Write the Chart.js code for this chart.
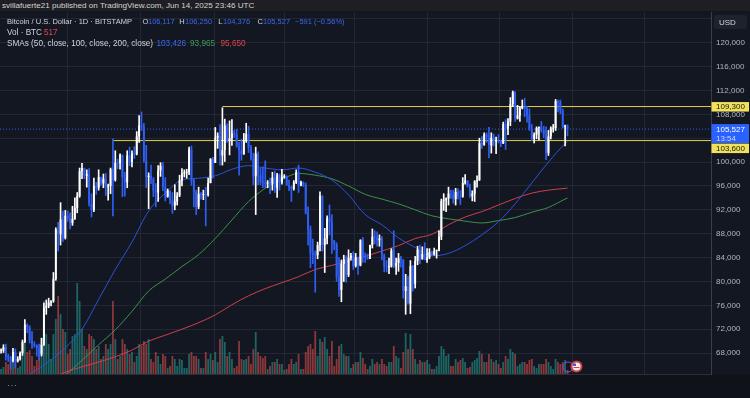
<!DOCTYPE html>
<html>
<head>
<meta charset="utf-8">
<title>BTCUSD 1D</title>
<script src="https://cdn.jsdelivr.net/npm/chart.js@4.4.1/dist/chart.umd.min.js"></script>
<style>
  body { margin:0; width:750px; height:398px; overflow:hidden; background:#131722; position:relative;
         font-family:"Liberation Sans", Arial, sans-serif; }
  #chart { position:absolute; left:0; top:0; }
  #pub { position:absolute; left:0; top:0; width:750px; height:11px; background:#1e1f23; color:#d4d4d4;
         font-size:8.1px; line-height:11px; padding-left:2px; box-sizing:border-box; white-space:nowrap; }
  .lg { position:absolute; font-size:8.2px; line-height:10px; color:#d1d4dc; white-space:nowrap; }
  .l1 { font-size:7.5px; top:17px; }
  .b { color:#3a68f0; } .g { color:#3d9a5a; } .r { color:#e5434b; }
  #dots { position:absolute; left:7px; top:380px; color:#8a8e99; font-size:9px; letter-spacing:0.5px; }
</style>
</head>
<body>
<canvas id="chart" width="750" height="398"></canvas>
<div id="pub">svillafuerte21 published on TradingView.com, Jun 14, 2025 23:46 UTC</div>

<div class="lg l1" style="left:7px">Bitcoin / U.S. Dollar · 1D · BITSTAMP</div>
<div class="lg l1" style="left:142.5px">O</div><div class="lg l1 b" style="left:148px">106,117</div>
<div class="lg l1" style="left:179.3px">H</div><div class="lg l1 b" style="left:185px">106,250</div>
<div class="lg l1" style="left:218.3px">L</div><div class="lg l1 b" style="left:223px">104,376</div>
<div class="lg l1" style="left:257.5px">C</div><div class="lg l1 b" style="left:263px">105,527</div>
<div class="lg l1 b" style="left:295px">−591 (−0.56%)</div>

<div class="lg" style="left:7px;top:28px">Vol · BTC</div>
<div class="lg r" style="left:44px;top:28px">517</div>

<div class="lg" style="left:7px;top:38.7px">SMAs (50, close, 100, close, 200, close)</div>
<div class="lg b" style="left:156.5px;top:38.7px">103,426</div>
<div class="lg g" style="left:190px;top:38.7px">93,965</div>
<div class="lg r" style="left:220.5px;top:38.7px">95,650</div>

<div id="dots">···</div>

<script>
// daily candles, Bitstamp BTC/USD, first bar = 2024-10-18 (x index 0), prices in thousands of USD
const firstDay = '2024-10-18';

const opens = [
  67.6,68.4,68.4,69.0,67.4,67.3,66.7,68.2,66.6,67.0,68.0,69.9,72.7,72.3,
  70.2,69.5,69.3,68.8,67.8,69.4,75.6,75.9,76.5,76.7,80.4,88.7,87.9,90.4,87.3,91.0,90.6,89.8,90.5,92.3,94.3,98.5,99.0,97.7,98.0,93.0,92.0,96.0,95.7,97.5,
  96.4,97.2,95.9,96.0,98.8,97.0,99.9,99.8,101.2,97.4,96.6,101.1,100.0,101.4,101.3,104.3,106.1,106.0,100.2,97.5,97.7,97.2,95.2,94.9,98.6,99.4,95.8,94.2,95.2,93.7,92.7,
  93.4,94.4,96.9,98.1,98.2,98.3,102.1,96.9,95.0,92.5,94.7,94.5,94.6,94.5,96.5,100.5,99.9,104.1,104.4,101.1,102.0,106.1,103.6,104.0,104.8,104.7,102.6,102.0,101.3,103.7,104.7,
  102.4,100.6,97.6,101.4,97.8,96.6,96.5,96.4,96.5,96.4,97.4,95.7,97.8,96.6,97.5,97.6,96.1,95.8,95.5,96.6,98.3,96.1,96.6,96.2,91.5,88.7,84.7,84.5,
  84.4,86.1,94.3,86.1,87.2,90.6,89.9,86.8,86.2,80.7,78.6,82.9,83.7,81.1,84.0,84.3,82.6,84.1,82.7,86.9,84.2,84.1,83.8,86.1,87.5,87.4,86.9,87.2,84.4,82.6,82.4,
  82.5,85.2,82.5,83.1,83.9,83.6,78.4,79.2,76.3,82.6,79.6,83.4,85.3,83.8,84.6,83.6,84.0,84.9,84.5,85.1,85.2,87.5,93.5,93.7,93.9,94.7,94.6,93.8,95.0,94.3,
  94.2,96.5,96.9,95.9,94.3,94.7,96.8,97.0,103.2,102.9,104.6,104.1,102.8,104.1,103.5,103.7,103.5,103.1,106.4,105.6,106.8,109.7,111.7,107.3,107.8,109.0,109.4,108.9,107.8,105.6,103.9,
  104.6,105.7,105.8,105.4,104.7,101.5,104.3,105.6,105.7,110.2,110.1,108.6,105.9,106.117
];
const highs = [
  68.9,68.7,69.4,69.5,67.8,67.5,68.8,68.7,67.4,68.2,70.2,73.6,72.9,72.6,
  71.6,69.9,69.4,69.5,70.5,76.4,76.9,77.2,76.8,81.5,89.0,89.9,93.2,91.8,91.9,91.8,91.5,92.6,94.0,94.9,99.0,99.8,99.0,98.7,98.9,94.7,97.3,96.6,98.7,97.5,
  98.0,98.1,96.3,99.0,103.9,101.9,100.5,101.4,101.2,98.3,101.9,102.5,101.9,102.6,105.1,107.8,108.4,106.5,102.8,98.2,99.5,97.4,96.4,99.4,99.9,99.9,97.4,95.5,95.2,94.9,96.2,
  94.9,97.8,98.9,98.7,98.8,102.5,102.7,97.2,95.3,95.8,94.9,95.3,95.8,97.3,100.6,100.8,105.8,104.9,106.3,109.1,107.2,106.4,106.9,107.1,105.3,105.5,103.3,103.8,104.8,106.5,106.0,
  102.8,101.5,102.5,101.7,99.0,99.2,100.2,96.9,97.3,98.3,98.5,98.1,98.0,98.8,97.9,97.7,97.0,96.0,96.9,98.7,99.5,96.8,96.7,96.5,92.5,89.3,87.1,85.1,
  86.6,95.0,94.4,88.9,91.0,92.8,91.2,86.9,86.5,84.0,83.6,84.4,84.3,85.3,84.7,85.0,84.7,84.1,87.0,87.4,84.8,84.6,86.1,88.8,88.5,88.3,87.8,87.5,84.6,83.5,83.9,
  85.5,88.5,83.9,84.7,84.2,83.7,81.2,80.9,83.5,82.7,84.2,85.9,86.1,85.8,86.5,85.5,85.5,85.1,85.6,85.3,88.5,93.8,94.7,94.0,95.8,95.3,95.3,95.6,95.5,95.2,
  97.4,97.9,96.9,96.3,95.2,96.9,97.7,104.0,104.3,104.9,104.9,105.8,104.9,104.7,104.2,104.6,103.7,106.7,107.1,107.3,110.8,111.9,111.8,109.5,109.3,110.4,110.7,109.3,108.9,106.3,104.9,
  105.9,105.9,106.8,106.0,105.9,105.3,105.9,106.3,110.5,110.4,110.4,108.9,106.2,106.25
];
const lows = [
  67.1,68.0,68.1,66.8,66.6,65.3,66.5,65.5,66.5,66.8,67.6,69.7,71.4,69.7,
  68.8,69.0,67.5,66.8,67.5,69.3,74.5,75.6,75.9,76.5,80.2,85.1,86.1,86.7,87.1,90.1,88.8,89.4,90.4,91.5,94.1,97.2,97.2,95.8,92.6,90.8,91.7,94.6,95.3,96.1,
  95.7,94.4,93.6,94.7,91.0,96.8,98.9,98.8,94.2,94.3,95.7,99.4,99.2,100.6,101.2,103.3,105.3,100.0,95.7,92.2,96.4,94.2,92.5,93.4,97.6,95.2,93.5,94.1,93.0,91.4,92.0,
  92.8,94.2,96.0,97.5,97.3,97.9,96.1,92.5,91.2,92.2,93.8,93.7,89.3,94.3,96.5,97.3,99.9,102.3,99.5,99.5,100.1,103.3,101.2,102.8,104.1,102.5,97.8,100.3,101.3,103.3,101.6,
  100.3,96.2,91.2,96.2,96.2,95.7,95.7,95.7,94.7,95.3,94.9,94.1,95.3,96.3,97.3,96.1,95.2,93.4,95.3,96.4,94.9,96.0,95.9,91.3,86.1,82.3,83.0,78.2,
  83.8,85.1,85.1,81.5,86.3,87.8,84.7,85.3,80.0,77.5,76.6,80.0,79.9,80.8,83.6,82.0,82.4,81.2,82.6,83.2,83.2,83.7,83.8,85.6,86.3,85.9,85.9,83.6,81.6,81.6,81.3,
  82.4,82.3,81.2,81.7,82.4,77.2,74.5,76.2,74.6,78.4,78.9,82.8,83.0,83.7,83.6,83.2,83.8,84.3,84.4,83.9,85.1,87.0,91.9,91.7,92.8,93.9,93.1,92.8,93.8,92.9,
  94.1,96.3,95.8,94.1,93.5,93.4,95.8,96.9,102.3,102.8,103.3,100.7,101.5,102.7,101.4,103.2,102.6,103.1,102.1,104.6,106.1,109.3,106.8,107.2,106.8,108.9,107.6,106.7,105.3,103.6,103.2,
  103.9,103.7,105.0,104.1,100.4,101.1,103.9,105.0,105.3,108.4,108.1,105.7,102.7,104.376
];
const closes = [
  68.4,68.4,69.0,67.4,67.3,66.7,68.2,66.6,67.0,68.0,69.9,72.7,72.3,70.2,
  69.5,69.3,68.8,67.8,69.4,75.6,75.9,76.5,76.7,80.4,88.7,87.9,90.4,87.3,91.0,90.6,89.8,90.5,92.3,94.3,98.5,99.0,97.7,98.0,93.0,92.0,96.0,95.7,97.5,96.4,
  97.2,95.9,96.0,98.8,97.0,99.9,99.8,101.2,97.4,96.6,101.1,100.0,101.4,101.3,104.3,106.1,106.0,100.2,97.5,97.7,97.2,95.2,94.9,98.6,99.4,95.8,94.2,95.2,93.7,92.7,93.4,
  94.4,96.9,98.1,98.2,98.3,102.1,96.9,95.0,92.5,94.7,94.5,94.6,94.5,96.5,100.5,99.9,104.1,104.4,101.1,102.0,106.1,103.6,104.0,104.8,104.7,102.6,102.0,101.3,103.7,104.7,102.4,
  100.6,97.6,101.4,97.8,96.6,96.5,96.4,96.5,96.4,97.4,95.7,97.8,96.6,97.5,97.6,96.1,95.8,95.5,96.6,98.3,96.1,96.6,96.2,91.5,88.7,84.7,84.5,84.4,
  86.1,94.3,86.1,87.2,90.6,89.9,86.8,86.2,80.7,78.6,82.9,83.7,81.1,84.0,84.3,82.6,84.1,82.7,86.9,84.2,84.1,83.8,86.1,87.5,87.4,86.9,87.2,84.4,82.6,82.4,82.5,
  85.2,82.5,83.1,83.9,83.6,78.4,79.2,76.3,82.6,79.6,83.4,85.3,83.8,84.6,83.6,84.0,84.9,84.5,85.1,85.2,87.5,93.5,93.7,93.9,94.7,94.6,93.8,95.0,94.3,94.2,
  96.5,96.9,95.9,94.3,94.7,96.8,97.0,103.2,102.9,104.6,104.1,102.8,104.1,103.5,103.7,103.5,103.1,106.4,105.6,106.8,109.7,111.7,107.3,107.8,109.0,109.4,108.9,107.8,105.6,103.9,104.6,
  105.7,105.8,105.4,104.7,101.5,104.3,105.6,105.7,110.2,110.1,108.6,105.9,106.1,105.527
];
// daily volume, BTC
const volumes = [
  1040,650,910,1560,1300,1820,1430,2860,780,1040,2340,3900,2860,3120,
  2340,1040,1820,2860,4680,9490,5200,3900,1950,5200,7150,10140,7800,5850,5460,2600,3250,4940,5200,11830,9490,5850,3640,3250,5200,4940,4550,3250,3640,1950,
  2340,3900,3250,3900,9490,4550,1950,2340,4550,3900,3250,2600,2860,1560,2340,3900,3640,4290,3900,4550,1950,1560,2860,2340,1300,2600,2340,780,1040,2340,1950,
  1040,1950,1820,780,780,2600,2860,2340,2340,1950,780,780,2860,1950,2600,1820,2860,1560,4550,4940,4160,2340,2860,1950,780,1040,4290,1950,1820,1950,2340,
  1300,3250,5460,2860,2340,2080,2340,650,1040,1560,1560,1950,1300,1300,520,650,1300,1950,1300,1560,2600,650,650,2860,3640,3900,3250,5590,
  2340,4550,4160,4810,3250,2340,4290,1040,1950,3640,3900,2600,2340,2340,780,1300,1560,1560,2860,2080,1300,650,1040,1950,1300,1560,1300,1950,1300,1040,1560,
  1560,3640,2340,2080,780,2860,5330,3250,5200,3250,1950,1300,1820,1560,1560,1820,1300,650,650,1040,2340,3640,3250,2340,2600,1040,1040,1950,1560,1820,
  2080,1560,780,910,1560,1820,2080,2990,2600,1560,1560,2600,1950,1560,1820,1300,780,1560,2340,1950,3250,2860,2600,1040,1300,1560,1560,1300,1820,1950,1040,
  780,1300,1300,1300,1950,1560,1040,650,1950,1560,1300,1560,1820,517
];

// moving averages, weekly samples (x index, thousands of USD)
const smaDays = [0,7,14,21,28,35,42,49,56,63,70,77,84,91,98,105,112,119,126,133,140,147,154,161,168,175,182,189,196,203,210,217,224,231,238,239];
const sma50  = [62.3,63.3,64.7,66.6,68.9,72.0,77.0,82.0,86.6,91.8,94.8,97.0,97.3,97.7,98.8,99.4,99.0,98.7,99.0,98.3,97.0,94.5,91.2,89.5,87.3,85.7,84.3,84.7,86.0,87.8,90.0,93.0,96.5,100.0,103.1,103.426];
const sma100 = [59.5,60.5,61.5,62.8,64.4,66.8,69.4,71.9,75.0,78.4,80.4,82.5,84.5,87.2,90.3,93.4,95.6,97.1,98.1,97.8,97.2,96.0,94.6,93.8,93.0,92.0,91.0,90.5,90.1,89.8,90.2,90.7,91.6,92.4,93.8,93.965];
const sma200 = [61.0,61.8,62.6,63.6,64.8,65.7,66.5,67.4,68.5,70.0,71.0,72.0,73.1,74.4,76.1,77.6,78.8,79.8,80.8,82.0,82.7,83.4,84.2,85.1,86.0,87.2,87.9,89.5,90.8,91.7,92.8,93.9,94.8,95.3,95.6,95.65];

// month starts Nov 1 .. Aug 1 as x index, price axis ticks
const monthStarts = [14,44,75,106,134,165,195,226,256,287];
const priceTicks = [68000,72000,76000,80000,84000,88000,92000,96000,100000,104000,108000,112000,116000,120000,124000];

// drawn horizontal rays: price and starting bar
const levelPrices = [109300, 103600];
const levelFrom = [94, 48];
const lastPrice = 105527;
const countdown = '13:54';

const K = 1000;
const xMin = 0.55, xMax = 299.3;
const yMin = 64500, yMax = 125140;

const up = closes.map((c, i) => c >= opens[i]);
const candleColors = up.map(u => u ? '#ffffff' : '#2f5ff5');
const volColors = up.map(u => u ? 'rgba(38,166,154,0.55)' : 'rgba(239,83,80,0.55)');

const bodies = opens.map((o, i) => ({ x: i, y: [o * K, closes[i] * K] }));
const wicks = lows.map((l, i) => ({ x: i, y: [l * K, highs[i] * K] }));
const vols = volumes.map((v, i) => ({ x: i, y: v }));
const smaLine = arr => smaDays.map((d, i) => ({ x: d, y: arr[i] * K }));

const datasets = [
  { type: 'bar', label: 'body', data: bodies, backgroundColor: candleColors, grouped: false,
    categoryPercentage: 1, barPercentage: 0.8, minBarLength: 1, order: 1 },
  { type: 'bar', label: 'wick', data: wicks, backgroundColor: candleColors, grouped: false,
    barThickness: 1, order: 2 },
  { type: 'line', label: 'SMA 50', data: smaLine(sma50), borderColor: '#2d52d6', borderWidth: 1,
    pointRadius: 0, cubicInterpolationMode: 'monotone', order: 4 },
  { type: 'line', label: 'SMA 100', data: smaLine(sma100), borderColor: '#3f8f4c', borderWidth: 1,
    pointRadius: 0, cubicInterpolationMode: 'monotone', order: 4 },
  { type: 'line', label: 'SMA 200', data: smaLine(sma200), borderColor: '#cf3f4c', borderWidth: 1,
    pointRadius: 0, cubicInterpolationMode: 'monotone', order: 4 },
  { type: 'line', label: 'last', data: [{ x: xMin, y: lastPrice }, { x: xMax, y: lastPrice }],
    borderColor: '#2962ff', borderWidth: 1, borderDash: [1, 2], pointRadius: 0, order: 5 },
  { type: 'bar', label: 'vol', data: vols, yAxisID: 'v', backgroundColor: volColors, grouped: false,
    categoryPercentage: 1, barPercentage: 0.75, order: 7 }
];
levelPrices.forEach((p, i) => {
  datasets.push({ type: 'line', label: 'level ' + p, data: [{ x: levelFrom[i], y: p }, { x: xMax, y: p }],
    borderColor: '#e2d24a', borderWidth: 1, pointRadius: 0, order: 3 });
});

const fmt = v => v.toLocaleString('en-US');

const paintPlugin = {
  id: 'paint',
  beforeDraw(chart) {
    const { ctx, chartArea } = chart;
    ctx.save();
    ctx.fillStyle = '#131722';
    ctx.fillRect(0, 0, chart.width, chart.height);
    ctx.fillStyle = '#0f1219';
    ctx.fillRect(0, chartArea.bottom, chart.width, chart.height - chartArea.bottom);
    ctx.restore();
  },
  afterDraw(chart) {
    const { ctx, chartArea, scales: { y } } = chart;
    const x0 = chartArea.right + 0.5;
    const w = chart.width - x0 - 1;
    ctx.save();
    ctx.font = '8px "Liberation Sans", Arial, sans-serif';
    ctx.textBaseline = 'middle';
    ctx.textAlign = 'left';

    // USD box
    ctx.fillStyle = '#1e222d';
    ctx.beginPath();
    ctx.roundRect(714, 15, 33, 14, 2);
    ctx.fill();
    ctx.fillStyle = '#d1d4dc';
    ctx.fillText('USD', 719, 22.5);

    // last price tag
    const yp = y.getPixelForValue(lastPrice);
    ctx.fillStyle = '#2962ff';
    ctx.fillRect(x0, yp - 5, w, 19);
    ctx.fillStyle = '#ffffff';
    ctx.fillText(fmt(lastPrice), x0 + 4.5, yp + 0.5);
    ctx.fillStyle = '#cfd8ff';
    ctx.fillText(countdown, x0 + 4.5, yp + 9.5);

    // level tags
    levelPrices.forEach(p => {
      let yl = y.getPixelForValue(p);
      if (yl > yp - 10 && yl < yp + 19) yl = yp + 14 + 5;
      ctx.fillStyle = '#f1e25a';
      ctx.fillRect(x0, yl - 4.5, w, 9.5);
      ctx.fillStyle = '#131722';
      ctx.fillText(fmt(p), x0 + 4.5, yl + 0.5);
    });

    // event markers in volume pane
    ctx.strokeStyle = '#7a52d8';
    ctx.lineWidth = 1;
    ctx.beginPath(); ctx.arc(568, 367, 5, 0, Math.PI * 2); ctx.stroke();
    ctx.fillStyle = '#d63c44';
    ctx.beginPath(); ctx.arc(576.5, 366.5, 6, 0, Math.PI * 2); ctx.fill();
    ctx.fillStyle = '#f2f2f2';
    ctx.beginPath(); ctx.arc(576.5, 366.5, 4, 0, Math.PI * 2); ctx.fill();
    ctx.fillStyle = '#3a5bd6';
    ctx.fillRect(573, 363.5, 3, 2.5);
    ctx.fillStyle = '#d63c44';
    ctx.fillRect(573.5, 367, 6, 1);
    ctx.restore();
  }
};

Chart.defaults.font.family = '"Liberation Sans", Arial, sans-serif';

new Chart(document.getElementById('chart').getContext('2d'), {
  type: 'bar',
  data: { datasets },
  options: {
    responsive: false,
    animation: false,
    devicePixelRatio: 1,
    events: [],
    layout: { padding: { top: 12, bottom: 24, left: 0, right: 0 } },
    plugins: { legend: { display: false }, tooltip: { enabled: false } },
    scales: {
      x: {
        type: 'linear', min: xMin, max: xMax, offset: false,
        afterBuildTicks: s => { s.ticks = monthStarts.map(v => ({ value: v })); },
        ticks: { display: false },
        grid: { color: '#232733', drawTicks: false },
        border: { display: true, color: '#2a2e39' }
      },
      y: {
        type: 'linear', position: 'right', min: yMin, max: yMax,
        afterBuildTicks: s => { s.ticks = priceTicks.map(v => ({ value: v })); },
        afterFit: s => { s.width = 39; },
        ticks: { color: '#b2b5be', font: { size: 8 }, padding: 5, callback: v => fmt(v) },
        grid: { color: '#232733', drawTicks: false },
        border: { display: true, color: '#3a3e4a' }
      },
      v: {
        type: 'linear', display: false, min: 0, max: 47060
      }
    }
  },
  plugins: [paintPlugin]
});
</script>
</body>
</html>
